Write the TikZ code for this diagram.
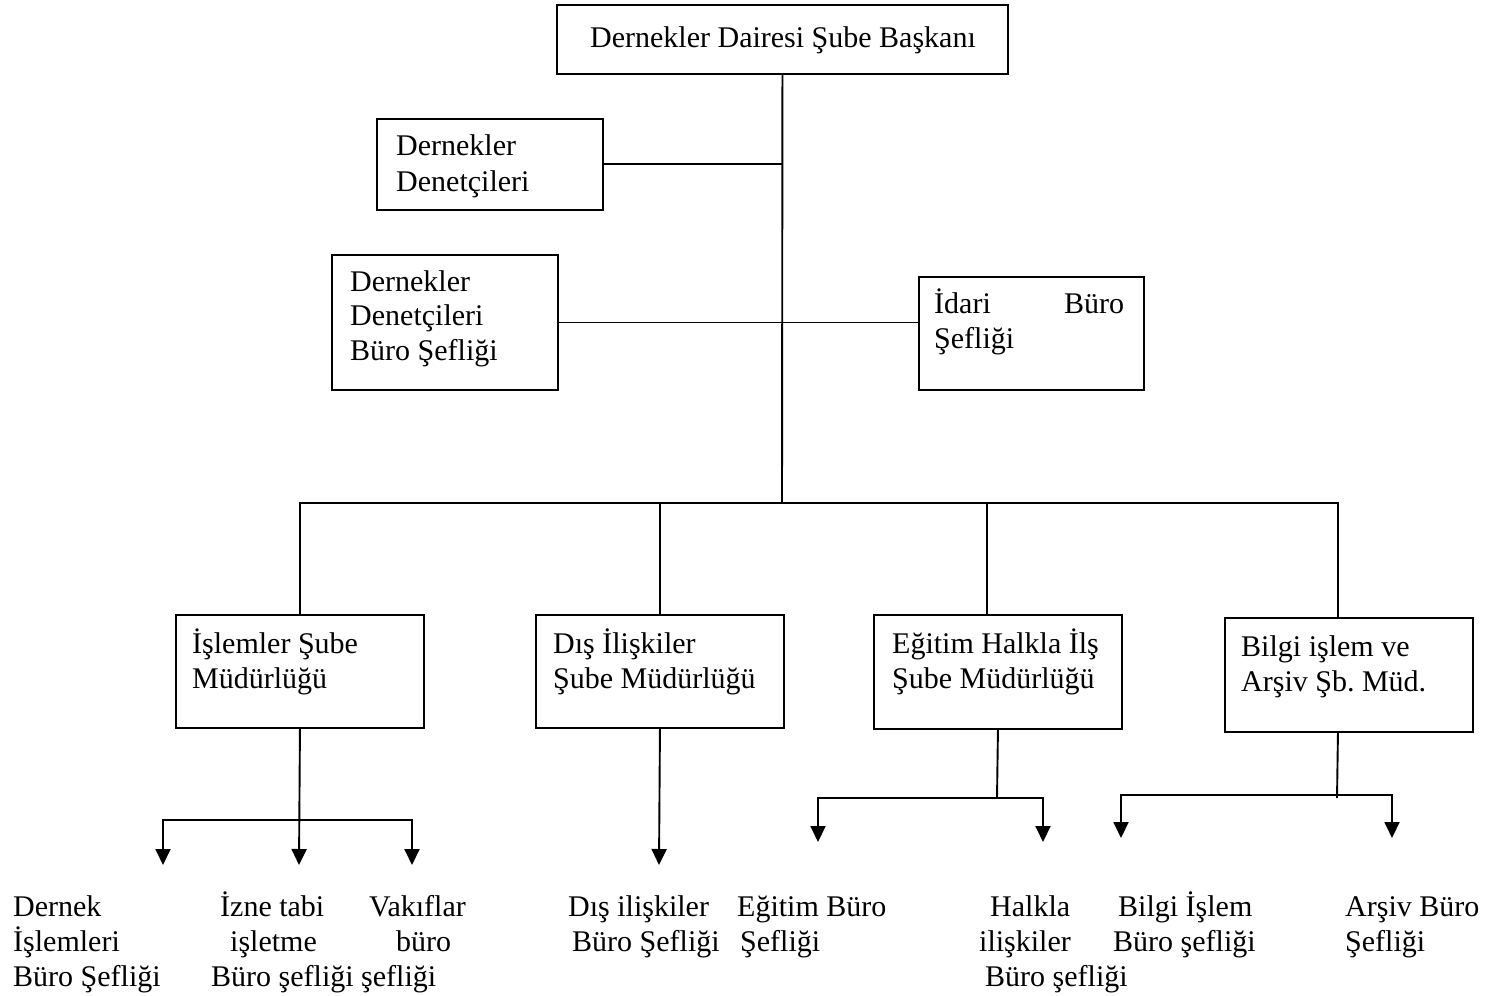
\documentclass[tikz,border=0pt]{standalone}
\usepackage{fontspec}
\setmainfont{Liberation Serif}
\usetikzlibrary{arrows.meta}
\frenchspacing
\begin{document}
\begin{tikzpicture}[x=1pt,y=-1pt,
  box/.style={draw, line width=1.9pt, anchor=north west, inner sep=0pt},
  txt/.style={anchor=base west, inner sep=0pt, font=\fontsize{30}{35}\selectfont},
  ln/.style={line width=1.9pt},
  arr/.style={line width=1.9pt, -{Triangle[width=15pt,length=16pt]}}]
\useasboundingbox (0,0) rectangle (1487,995);

% boxes
\node[box, minimum width=451pt, minimum height=69pt]  (top)   at (556,4)   {};
\node[box, minimum width=226pt, minimum height=91pt]  (dd1)   at (376,118) {};
\node[box, minimum width=226pt, minimum height=135pt] (dd2)   at (331,254) {};
\node[box, minimum width=225pt, minimum height=113pt] (idari) at (918,276) {};
\node[box, minimum width=248pt, minimum height=113pt] (b1)    at (175,614) {};
\node[box, minimum width=248pt, minimum height=113pt] (b2)    at (535,614) {};
\node[box, minimum width=248pt, minimum height=114pt] (b3)    at (873,614) {};
\node[box, minimum width=248pt, minimum height=114pt] (b4)    at (1224,617) {};

% box texts
\node[txt, anchor=base] (topT) at (783,48) {Dernekler Dairesi Şube Başkanı};
\node[txt] (dd1a) at (396,156) {Dernekler};
\node[txt] (dd1b) at (396,191) {Denetçileri};
\node[txt] (dd2a) at (350,291) {Dernekler};
\node[txt] (dd2b) at (350,325.5) {Denetçileri};
\node[txt] (dd2c) at (350,360) {Büro Şefliği};
\node[txt] (ida) at (934,313) {\makebox[190pt][l]{İdari\hfill Büro}};
\node[txt] (idb) at (934,348) {Şefliği};
\node[txt] (b1a) at (192,653) {İşlemler Şube};
\node[txt] (b1b) at (192,688) {Müdürlüğü};
\node[txt] (b2a) at (553,653) {Dış İlişkiler};
\node[txt] (b2b) at (553,688) {Şube Müdürlüğü};
\node[txt] (b3a) at (892,653) {Eğitim Halkla İlş};
\node[txt] (b3b) at (892,688) {Şube Müdürlüğü};
\node[txt] (b4a) at (1241,656) {Bilgi işlem ve};
\node[txt] (b4b) at (1241,691) {Arşiv Şb. Müd.};

% bottom texts
\node[txt] (t1a) at (13,916) {Dernek};
\node[txt] (t1b) at (13,951) {İşlemleri};
\node[txt] (t1c) at (13,986) {Büro Şefliği};
\node[txt] (t2a) at (220,916) {İzne tabi};
\node[txt] (t2b) at (230,951) {işletme};
\node[txt] (t2c) at (211,986) {Büro şefliği};
\node[txt] (t3a) at (369,916) {Vakıflar};
\node[txt] (t3b) at (396,951) {büro};
\node[txt] (t3c) at (361,986) {şefliği};
\node[txt] (t4a) at (568,916) {Dış ilişkiler};
\node[txt] (t4b) at (572,951) {Büro Şefliği};
\node[txt] (t5a) at (737,916) {Eğitim Büro};
\node[txt] (t5b) at (740,951) {Şefliği};
\node[txt] (t6a) at (990,916) {Halkla};
\node[txt] (t6b) at (979,951) {ilişkiler};
\node[txt] (t6c) at (985,986) {Büro şefliği};
\node[txt] (t7a) at (1118,916) {Bilgi İşlem};
\node[txt] (t7b) at (1113,951) {Büro şefliği};
\node[txt] (t8a) at (1345,916) {Arşiv Büro};
\node[txt] (t8b) at (1345,951) {Şefliği};

% coordinates
\coordinate (trunkend) at (782,502);
\coordinate (bus) at (782,503);
\coordinate (k1) at (299,820);
\coordinate (e11) at (163,865);
\coordinate (e12) at (299,865);
\coordinate (e13) at (412,865);
\coordinate (e2) at (659,865);
\coordinate (k3) at (997,798);
\coordinate (e31) at (818,842);
\coordinate (e32) at (1043,842);
\coordinate (k4) at (1337,795);
\coordinate (e41) at (1121,838);
\coordinate (e42) at (1392,838);

% upper connectors
\draw[ln] (top.south) -- (trunkend);
\draw[ln] (dd1.east) -- (dd1.east -| trunkend);
\draw[ln] (dd2.east) -- (dd2.east -| idari.west);
\draw[ln] (b1.north) |- (bus) -| ([xshift=-11pt]b4.north);
\draw[ln] (b2.north) -- (b2.north |- bus);
\draw[ln] ([xshift=-11pt]b3.north) -- ([xshift=-11pt]b3.north |- trunkend);

% lower connectors
\draw[arr] (b1.south) -- (e12);
\draw[arr] (k1) -| (e11);
\draw[arr] (k1) -| (e13);
\draw[arr] (b2.south) -- (e2);
\draw[ln] (b3.south) -- (k3);
\draw[arr] (k3) -| (e31);
\draw[arr] (k3) -| (e32);
\draw[ln] ([xshift=-11pt]b4.south) -- ([yshift=-3pt]k4);
\draw[arr] (k4) -| (e41);
\draw[arr] (k4) -| (e42);
\end{tikzpicture}
\end{document}
